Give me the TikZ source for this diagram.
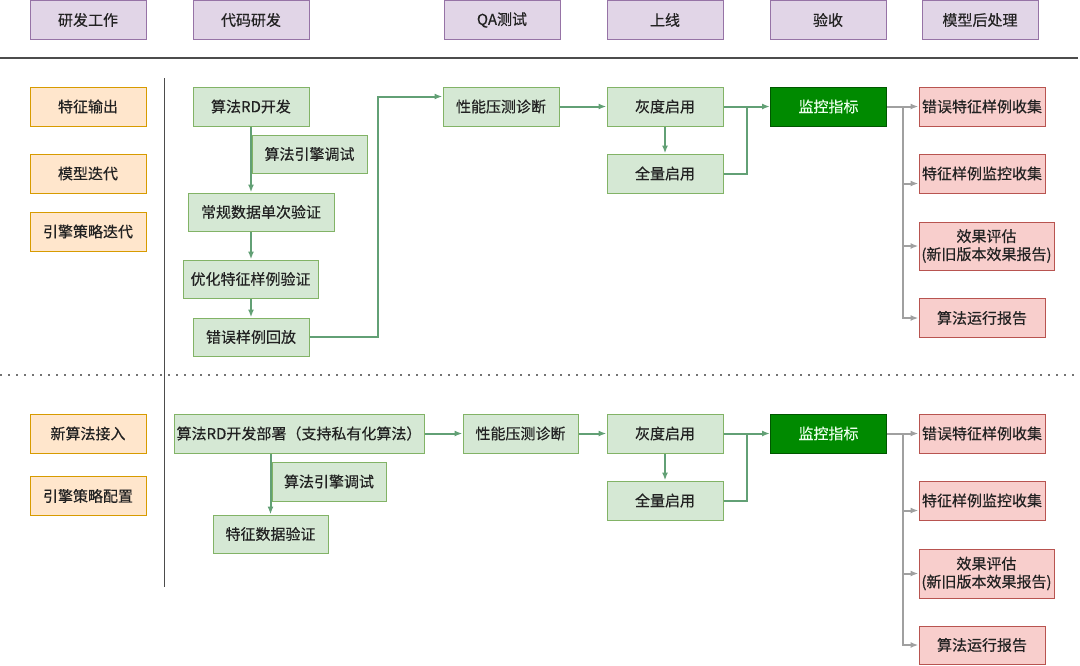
\documentclass[tikz,border=0pt]{standalone}
\usepackage{fontspec}
\setmainfont{Noto Sans CJK SC}[FakeBold=0.4]
\usetikzlibrary{calc,arrows.meta}
\definecolor{headfill}{HTML}{E1D5E7}
\definecolor{headline}{HTML}{9673A6}
\definecolor{rolefill}{HTML}{FFE6CC}
\definecolor{roleline}{HTML}{D79B00}
\definecolor{taskfill}{HTML}{D5E8D4}
\definecolor{taskline}{HTML}{82B366}
\definecolor{monfill}{HTML}{008A00}
\definecolor{monline}{HTML}{005700}
\definecolor{postfill}{HTML}{F8CECC}
\definecolor{postline}{HTML}{B85450}
\definecolor{flowgreen}{HTML}{62A075}
\definecolor{feedgray}{HTML}{A0A0A0}
\definecolor{textdark}{HTML}{222222}
\def\boxw{116pt}
\def\boxh{39pt}

\begin{document}
\begin{tikzpicture}[x=1pt,y=-1pt]
    \tikzset{%
      box/.style={draw, line width=1pt, inner sep=0pt, minimum width=\boxw, minimum height=\boxh,
        font=\fontsize{15}{18}\selectfont, text=textdark, align=center},
      head/.style={box, fill=headfill, draw=headline},
      role/.style={box, fill=rolefill, draw=roleline},
      task/.style={box, fill=taskfill, draw=taskline},
      watch/.style={box, fill=monfill, draw=monline, text=green!8},
      post/.style={box, fill=postfill, draw=postline, minimum width=126pt},
      flowline/.style={line width=2pt, draw=flowgreen},
      flow/.style={flowline, -{Latex[length=8pt,width=6pt]}},
      feed/.style={flow, draw=feedgray},
      rule/.style={line width=1.4pt, draw=black!70}}

    \useasboundingbox (0,0) rectangle (1080,665);

    % stage headers
    \foreach \n/\x/\t in {h1/88/研发工作, h2/251/代码研发, h3/502/QA测试, h4/665/上线, h5/828/验收, h6/980/模型后处理}
      \node[head] (\n) at (\x,20) {\t};

    \draw[rule] (0,58) -- (1078,58);
    \draw[rule] (164.5,78) -- (164.5,587);
    \draw[line width=1.8pt, draw=black!55, dash pattern=on 1.8pt off 6.2pt] (0,375) -- (1078,375);

    % left column
    \node[role] (feat)   at (88,106.5) {特征输出};
    \node[role] (model)  at (88,173.5) {模型迭代};
    \node[role] (engine) at (88,231.5) {引擎策略迭代};
    \node[role] (newalg) at (88,433.5) {新算法接入};
    \node[role] (conf)   at (88,496)   {引擎策略配置};

    % upper flow
    \node[task] (rd)     at (251,106.5) {算法RD开发};
    \node[task, minimum width=115pt, minimum height=38pt] (dbg) at (309.5,154) {算法引擎调试};
    \node[task, minimum width=146pt, minimum height=38pt] (chk1) at (261,212) {常规数据单次验证};
    \node[task, minimum width=135pt, minimum height=38pt] (chk2) at (250.5,279) {优化特征样例验证};
    \node[task, minimum height=38pt] (replay) at (251,337) {错误样例回放};
    \node[task] (perf)   at (501,106.5) {性能压测诊断};
    \node[task] (canary) at (665,106.5) {灰度启用};
    \node[task] (full)   at (665,173.5) {全量启用};
    \node[watch] (monitor) at (828.5,106.5) {监控指标};
    \node[post] (post1) at (982,106.5) {错误特征样例收集};
    \node[post] (post2) at (982,173.5) {特征样例监控收集};
    \node[post, minimum width=135pt, minimum height=48pt] (post3) at (986.5,246) {效果评估\\(新旧版本效果报告)};
    \node[post] (post4) at (982,318) {算法运行报告};

    \draw[flow] (rd.south) -- (rd.south |- chk1.north);
    \draw[flow] (chk1.south -| rd.south) -- (chk2.north -| rd.south);
    \draw[flow] (chk2.south -| rd.south) -- (replay.north);
    \draw[flow] (replay.east) -- ++(68,0) |- ([yshift=10pt]perf.west);
    \draw[flow] (perf.east) -- (canary.west);
    \draw[flow] (canary.south) -- (full.north);
    \draw[flow] (canary.east) -- (monitor.west);
    \draw[flowline] (full.east) -| ($(canary.east)!0.5!(monitor.west)$);
    \coordinate (fork1) at ($(monitor.east)!0.5!(post1.west)$);
    \draw[feed] (monitor.east) -- (post1.west);
    \draw[feed] (fork1) |- ([yshift=-10pt]post2.west);
    \draw[feed] (fork1) |- (post3.west);
    \draw[feed] (fork1) |- (post4.west);

    % lower flow
    \node[task, minimum width=250pt] (dep) at (299,433.5) {算法RD开发部署（支持私有化算法）};
    \node[task, minimum width=114pt] (dbg2) at (329,481.5) {算法引擎调试};
    \node[task, minimum width=115pt, minimum height=38pt] (fdv) at (270.5,534) {特征数据验证};
    \node[task, minimum width=115pt] (perf2) at (520.5,433.5) {性能压测诊断};
    \node[task] (canary2) at (665,433.5) {灰度启用};
    \node[task] (full2)   at (665,500.5) {全量启用};
    \node[watch] (monitor2) at (828.5,433.5) {监控指标};
    \node[post] (post5) at (982,433.5) {错误特征样例收集};
    \node[post] (post6) at (982,500.5) {特征样例监控收集};
    \node[post, minimum width=135pt, minimum height=49pt] (post7) at (986.5,573.5) {效果评估\\(新旧版本效果报告)};
    \node[post, minimum height=38pt] (post8) at (982,645) {算法运行报告};

    \draw[flow] (fdv.north |- dep.south) -- (fdv.north);
    \draw[flow] (dep.east) -- (perf2.west);
    \draw[flow] (perf2.east) -- (canary2.west);
    \draw[flow] (canary2.south) -- (full2.north);
    \draw[flow] (canary2.east) -- (monitor2.west);
    \draw[flowline] (full2.east) -| ($(canary2.east)!0.5!(monitor2.west)$);
    \coordinate (fork2) at ($(monitor2.east)!0.5!(post5.west)$);
    \draw[feed] (monitor2.east) -- (post5.west);
    \draw[feed] (fork2) |- ([yshift=-10pt]post6.west);
    \draw[feed] (fork2) |- (post7.west);
    \draw[feed] (fork2) |- (post8.west);
\end{tikzpicture}
\end{document}
